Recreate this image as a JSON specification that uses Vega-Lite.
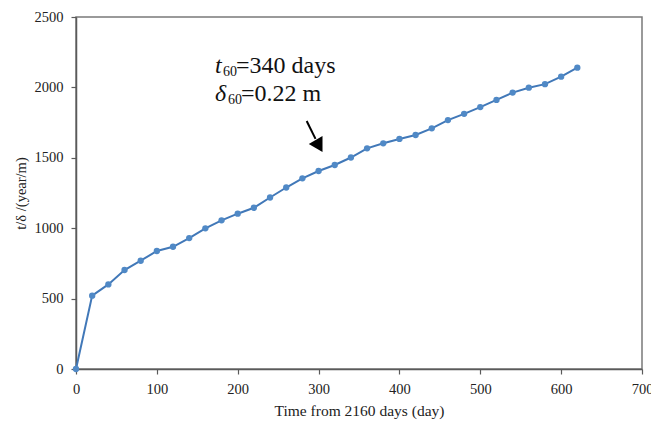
{
  "$schema": "https://vega.github.io/schema/vega-lite/v6.json",
  "autosize": {"type": "none"},
  "padding": {"left": 76, "top": 17, "right": 9, "bottom": 54},
  "width": 566,
  "height": 352,
  "background": "white",
  "config": {
    "view": {"stroke": "#7a7a7a", "strokeWidth": 1.5},
    "font": "Liberation Serif",
    "axis": {
      "grid": false,
      "domainColor": "#5a5a5a",
      "domainWidth": 1.5,
      "tickColor": "#5a5a5a",
      "tickWidth": 1.2,
      "tickSize": 5,
      "labelFlush": false,
      "labelFont": "Liberation Serif",
      "labelFontSize": 14.5,
      "labelColor": "#222222",
      "titleFont": "Liberation Serif",
      "titleFontSize": 15.5,
      "titleFontWeight": "normal",
      "titleColor": "#222222"
    }
  },
  "datasets": {
    "series": [
      {"time": 0, "ratio": 0},
      {"time": 20, "ratio": 521},
      {"time": 40, "ratio": 601},
      {"time": 60, "ratio": 703},
      {"time": 80, "ratio": 769},
      {"time": 100, "ratio": 838},
      {"time": 120, "ratio": 868},
      {"time": 140, "ratio": 930},
      {"time": 160, "ratio": 999},
      {"time": 180, "ratio": 1056},
      {"time": 200, "ratio": 1103},
      {"time": 220, "ratio": 1145},
      {"time": 240, "ratio": 1218},
      {"time": 260, "ratio": 1289},
      {"time": 280, "ratio": 1354},
      {"time": 300, "ratio": 1406},
      {"time": 320, "ratio": 1449},
      {"time": 340, "ratio": 1502},
      {"time": 360, "ratio": 1567},
      {"time": 380, "ratio": 1603},
      {"time": 400, "ratio": 1634},
      {"time": 420, "ratio": 1662},
      {"time": 440, "ratio": 1709},
      {"time": 460, "ratio": 1768},
      {"time": 480, "ratio": 1812},
      {"time": 500, "ratio": 1860},
      {"time": 520, "ratio": 1911},
      {"time": 540, "ratio": 1963},
      {"time": 560, "ratio": 1998},
      {"time": 580, "ratio": 2023},
      {"time": 600, "ratio": 2076},
      {"time": 620, "ratio": 2140}
    ],
    "italics": [
      {"x": 171.9, "y": 2099, "label": "t"},
      {"x": 171.9, "y": 1900, "label": "δ"}
    ],
    "subs": [
      {"x": 181.8, "y": 2081, "label": "60"},
      {"x": 188.0, "y": 1882, "label": "60"}
    ],
    "rest": [
      {"x": 197.9, "y": 2099, "label": "=340 days"},
      {"x": 204.1, "y": 1900, "label": "=0.22 m"}
    ],
    "arrowLine": [
      {"x": 285.3, "y": 1761, "x2": 296.2, "y2": 1634}
    ],
    "arrowHead": [
      {"x": 299.2, "y": 1598}
    ]
  },
  "layer": [
    {
      "data": {"name": "series"},
      "mark": {"type": "line", "color": "#4178b8", "strokeWidth": 2},
      "encoding": {
        "x": {
          "field": "time", "type": "quantitative",
          "scale": {"domain": [0, 700], "nice": false, "zero": true},
          "axis": {"values": [0, 100, 200, 300, 400, 500, 600, 700], "format": "d", "title": "Time from 2160 days (day)", "labelFont": "Liberation Serif", "labelPadding": 8, "titlePadding": 8}
        },
        "y": {
          "field": "ratio", "type": "quantitative",
          "scale": {"domain": [0, 2500], "nice": false},
          "axis": {"values": [0, 500, 1000, 1500, 2000, 2500], "format": "d", "title": "t/δ /(year/m)", "labelFont": "Liberation Serif", "titleFontSize": 14.5, "labelPadding": 8, "titlePadding": 6}
        }
      }
    },
    {
      "data": {"name": "series"},
      "mark": {"type": "point", "filled": true, "color": "#5089c6", "size": 40, "opacity": 1},
      "encoding": {
        "x": {"field": "time", "type": "quantitative"},
        "y": {"field": "ratio", "type": "quantitative"}
      }
    },
    {
      "data": {"name": "italics"},
      "mark": {"type": "text", "align": "left", "baseline": "alphabetic", "fontSize": 24, "fontStyle": "italic", "color": "#111111", "font": "Liberation Serif"},
      "encoding": {
        "x": {"field": "x", "type": "quantitative"},
        "y": {"field": "y", "type": "quantitative"},
        "text": {"field": "label"}
      }
    },
    {
      "data": {"name": "subs"},
      "mark": {"type": "text", "align": "left", "baseline": "alphabetic", "fontSize": 14, "color": "#111111", "font": "Liberation Serif"},
      "encoding": {
        "x": {"field": "x", "type": "quantitative"},
        "y": {"field": "y", "type": "quantitative"},
        "text": {"field": "label"}
      }
    },
    {
      "data": {"name": "rest"},
      "mark": {"type": "text", "align": "left", "baseline": "alphabetic", "fontSize": 24, "color": "#111111", "font": "Liberation Serif"},
      "encoding": {
        "x": {"field": "x", "type": "quantitative"},
        "y": {"field": "y", "type": "quantitative"},
        "text": {"field": "label"}
      }
    },
    {
      "data": {"name": "arrowLine"},
      "mark": {"type": "rule", "color": "#000000", "strokeWidth": 2},
      "encoding": {
        "x": {"field": "x", "type": "quantitative"},
        "y": {"field": "y", "type": "quantitative"},
        "x2": {"field": "x2"},
        "y2": {"field": "y2"}
      }
    },
    {
      "data": {"name": "arrowHead"},
      "mark": {"type": "point", "shape": "triangle", "filled": true, "color": "#000000", "size": 250, "angle": 150, "opacity": 1},
      "encoding": {
        "x": {"field": "x", "type": "quantitative"},
        "y": {"field": "y", "type": "quantitative"}
      }
    }
  ]
}
